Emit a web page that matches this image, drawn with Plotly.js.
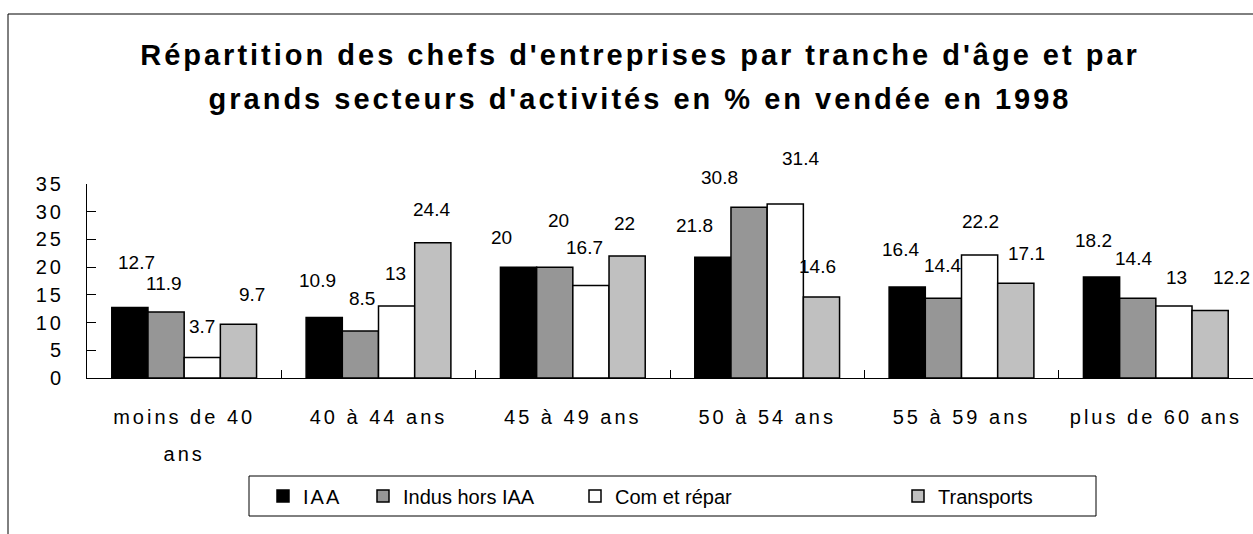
<!DOCTYPE html>
<html><head><meta charset="utf-8">
<script src="https://cdn.plot.ly/plotly-3.0.1.min.js"></script>
<style>
html,body{margin:0;padding:0;background:#fff;}
#chart{width:1253px;height:534px;}
.gtitle{letter-spacing:3px;}
.xtick text{letter-spacing:3px;}
.ytick text{letter-spacing:3px;}
.legendtext{letter-spacing:2px;}
</style></head><body><div id="chart"></div>
<script>
// ---- data ----
const categories = ['moins de 40 ans', '40 à 44 ans', '45 à 49 ans', '50 à 54 ans', '55 à 59 ans', 'plus de 60 ans'];
const tickLabels = ['moins de 40<br>ans', '40 à 44 ans', '45 à 49 ans', '50 à 54 ans', '55 à 59 ans', 'plus de 60 ans'];
const seriesNames = ['IAA', 'Indus hors IAA', 'Com et répar', 'Transports'];
const iaa = [12.7, 10.9, 20, 21.8, 16.4, 18.2];
const indus = [11.9, 8.5, 20, 30.8, 14.4, 14.4];
const comRepar = [3.7, 13, 16.7, 31.4, 22.2, 13];
const transports = [9.7, 24.4, 22, 14.6, 17.1, 12.2];
const yTickValues = [0, 5, 10, 15, 20, 25, 30, 35];
const titleLines = ["Répartition des chefs d'entreprises par tranche d'âge et par", "grands secteurs d'activités en % en vendée en 1998"];

// ---- style / geometry ----
const FONT = 'Liberation Sans, Arial, Helvetica, sans-serif';
const W = 1253, H = 534, L = 87, R = 0, T = 184, B = 156;
const plotW = W - L - R, plotH = H - T - B;
const px = x => (x - L) / plotW;
const py = y => (H - B - y) / plotH;
const colors = ['#000000', '#969696', '#ffffff', '#c0c0c0'];
const BARGAP = 0.255;
const barW = plotW / categories.length * (1 - BARGAP) / 4;
const seriesValues = [iaa, indus, comRepar, transports];
const legendNames = ['legend', 'legend2', 'legend3', 'legend4'];
const legendSymbolX = [263, 363, 575, 898];
// value-label nudges in pixels (as placed in the original chart), per series
const labelNudgeX = [[7, -7, -17, -18, -7, -8], [-2, 2, 4, -30, -1, -4], [0, -1, -6, 15, 1, 3], [14, -1, -3, -4, 11, 21]];
const labelRise = [[45, 37, 30, 32, 38, 37], [29, 32, 47, 30, 33, 40], [31, 32, 38, 45, 33, 28], [30, 33, 33, 31, 30, 33]];

const traces = seriesValues.map((vals, s) => ({
  type: 'bar',
  name: seriesNames[s],
  x: categories,
  y: vals,
  legend: legendNames[s],
  marker: {color: colors[s], line: {color: '#000', width: 1.5}},
  hoverinfo: 'name+y'
}));

const annotations = [];
seriesValues.forEach((vals, s) => {
  vals.forEach((v, i) => {
    annotations.push({
      x: categories[i], y: v, xref: 'x', yref: 'y',
      text: String(v), showarrow: false,
      xshift: (s - 1.5) * barW + labelNudgeX[s][i], yshift: labelRise[s][i],
      xanchor: 'center', yanchor: 'middle',
      font: {family: FONT, size: 19, color: '#000'}
    });
  });
});

const span = (t, size) => t.split('<br>').map(l => '<span style="font-size:' + size + 'px">' + l + '</span>').join('<br>');

const layout = {
  width: W, height: H,
  margin: {l: L, r: R, t: T, b: B, pad: 0},
  paper_bgcolor: '#fff', plot_bgcolor: '#fff',
  font: {family: FONT, color: '#000'},
  title: {
    text: titleLines.map(l => span(l, 29)).join('<br>'),
    font: {family: FONT, size: 34, weight: 700, color: '#000'},
    xref: 'container', x: 640 / W, xanchor: 'center',
    yref: 'container', y: 1 - 65 / H, yanchor: 'top'
  },
  barmode: 'group', bargap: BARGAP, bargroupgap: 0,
  xaxis: {
    type: 'category', range: [-0.5, categories.length - 0.5],
    tickmode: 'array', tickvals: categories, ticktext: tickLabels.map(t => span(t, 20)),
    tickfont: {family: FONT, size: 28.5, color: '#000'},
    ticks: 'inside', tickson: 'boundaries', ticklen: 8, tickcolor: '#000', tickwidth: 1,
    showline: true, linecolor: '#000', linewidth: 1,
    showgrid: false, zeroline: false, fixedrange: true, automargin: false,
    ticklabelstandoff: 11
  },
  yaxis: {
    range: [0, 35], tickmode: 'array', tickvals: yTickValues,
    tickfont: {family: FONT, size: 20, color: '#000'},
    ticks: 'inside', ticklen: 9, tickcolor: '#000', tickwidth: 1,
    showline: true, linecolor: '#000', linewidth: 1,
    showgrid: false, zeroline: false, fixedrange: true, automargin: false,
    ticklabelstandoff: 18
  },
  showlegend: true,
  annotations: annotations,
  shapes: [
    {type: 'rect', xref: 'paper', yref: 'paper', x0: px(8), x1: px(1300), y0: py(600), y1: py(14),
     line: {color: '#000', width: 1}, fillcolor: 'rgba(0,0,0,0)', layer: 'below'},
    {type: 'rect', xref: 'paper', yref: 'paper', x0: px(249), x1: px(1096), y0: py(516), y1: py(476),
     line: {color: '#000', width: 1}, fillcolor: 'rgba(0,0,0,0)', layer: 'above'}
  ]
};
legendNames.forEach((ln, s) => {
  layout[ln] = {
    x: px(legendSymbolX[s]), xanchor: 'left', y: py(496), yanchor: 'middle',
    orientation: 'h', bgcolor: 'rgba(0,0,0,0)', borderwidth: 0,
    font: {family: FONT, size: 20, color: '#000'}, itemclick: false, itemdoubleclick: false
  };
});

Plotly.newPlot('chart', traces, layout, {displayModeBar: false, staticPlot: true});
</script></body></html>
